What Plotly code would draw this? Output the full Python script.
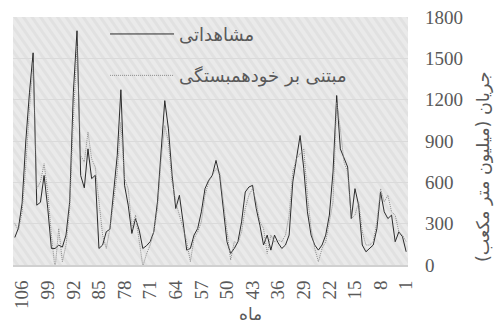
import base64
import plotly.graph_objects as go

# months, left to right on the chart (axis reversed, 108 months)
months = list(range(108, 0, -1))

observed = [200, 270, 450, 900, 1250, 1540, 434, 455, 650, 412,
            120, 120, 144, 130, 217, 458, 1253, 1700, 650, 560,
            843, 627, 651, 120, 145, 241, 260, 554, 795, 1272,
            578, 434, 229, 337, 253, 120, 140, 169, 241, 458,
            843, 1193, 988, 651, 410, 506, 313, 108, 120, 217,
            265, 386, 554, 614, 651, 759, 651, 410, 169, 84,
            120, 169, 313, 530, 566, 578, 410, 289, 145, 217,
            108, 217, 160, 120, 145, 217, 603, 771, 940, 700,
            386, 217, 145, 108, 145, 217, 362, 675, 1230, 843,
            771, 711, 337, 554, 434, 145, 96, 120, 145, 265,
            530, 386, 337, 362, 169, 241, 205, 96]

autoregressive = [301, 253, 387, 723, 1132, 1470, 554, 603, 735, 530,
                  217, -30, 265, 24, 145, 410, 1060, 1591, 795, 747,
                  964, 771, 711, 458, 217, 120, 265, 458, 675, 1036,
                  627, 554, 265, 362, 169, -10, 80, 145, 241, 410,
                  771, 1012, 892, 603, 458, 362, 265, 169, 24, 193,
                  241, 313, 506, 603, 651, 699, 675, 458, 265, 36,
                  169, 157, 241, 410, 506, 554, 458, 313, 265, 84,
                  217, 169, 180, 169, 217, 362, 675, 771, 807, 843,
                  506, 265, 120, 24, 120, 169, 313, 458, 1181, 988,
                  747, 675, 337, 362, 458, 241, 145, 145, 169, 313,
                  554, 458, 506, 386, 362, 241, 217, 169]

x_ticks = list(range(106, 0, -7))
y_ticks = [0, 300, 600, 900, 1200, 1500, 1800]

name_obs = "مشاهداتی"
name_ar = "مبتنی بر خودهمبستگی"
y_title = "\u200fجریان (میلیون متر مکعب)\u200f"
x_title = "ماه"

W, H = 499, 327
L, R, T, B = 13, 91, 17, 62
pw, ph = W - L - R, H - T - B

# subtle diagonal texture for the plot background
svg = f'''<svg xmlns="http://www.w3.org/2000/svg" width="{pw}" height="{ph}">
<defs><pattern id="p" width="7" height="7" patternUnits="userSpaceOnUse" patternTransform="rotate(-35)">
<rect width="7" height="7" fill="#eaeaea"/><rect width="3" height="7" fill="#e1e1e1"/></pattern></defs>
<rect width="{pw}" height="{ph}" fill="url(#p)"/></svg>'''
src = "data:image/svg+xml;base64," + base64.b64encode(svg.encode()).decode()

num_font = dict(family="Liberation Serif, Times New Roman, DejaVu Serif, serif",
                size=19, color="#595959")
fa_font = dict(family="DejaVu Sans", size=18, color="#595959")

fig = go.Figure()
fig.add_trace(go.Scatter(x=months, y=observed, mode="lines", name=name_obs,
                         legendgroup="a",
                         line=dict(color="#2b2b2b", width=1)))
fig.add_trace(go.Scatter(x=months, y=autoregressive, mode="lines", name=name_ar,
                         legendgroup="b",
                         line=dict(color="#8c8c8c", width=1, dash="1px,1px")))

fig.update_layout(
    width=W, height=H,
    margin=dict(l=L, r=R, t=T, b=B),
    paper_bgcolor="white",
    plot_bgcolor="#e6e6e6",
    showlegend=True,
    legend=dict(x=0.233, y=1.005, xanchor="left", yanchor="top",
                bgcolor="rgba(0,0,0,0)", font=fa_font,
                itemwidth=64, tracegroupgap=15),
    images=[dict(source=src, xref="paper", yref="paper", x=0, y=1,
                 sizex=1, sizey=1, sizing="stretch", layer="below",
                 xanchor="left", yanchor="top")],
    xaxis=dict(range=[108.5, 0.5], tickmode="array", tickvals=x_ticks,
               ticktext=[str(v) for v in x_ticks], tickangle=-90,
               tickfont=num_font, showgrid=False, zeroline=False,
               showline=True, linecolor="#d0d0d0", linewidth=2,
               ticks="", ticklabelstandoff=6, automargin=False),
    yaxis=dict(range=[0, 1800], tickvals=y_ticks, side="right",
               tickfont=num_font, showgrid=True, gridcolor="#dadada",
               gridwidth=1, zeroline=False, ticks="",
               ticklabelstandoff=16, automargin=False),
    annotations=[
        dict(text=x_title, xref="paper", yref="paper",
             x=(250 - L) / pw, y=-(314 - T - ph) / ph,
             xanchor="center", yanchor="middle", showarrow=False,
             font=dict(family="DejaVu Sans", size=17, color="#595959")),
        dict(text=y_title, xref="paper", yref="paper",
             x=(483 - L) / pw, y=1 - (167 - T) / ph, textangle=-90,
             xanchor="center", yanchor="middle", showarrow=False,
             font=dict(family="DejaVu Sans", size=17.5, color="#595959")),
    ],
)

fig.write_html("out.html", config={"displayModeBar": False},
               post_script="document.body.style.margin='0px';")
